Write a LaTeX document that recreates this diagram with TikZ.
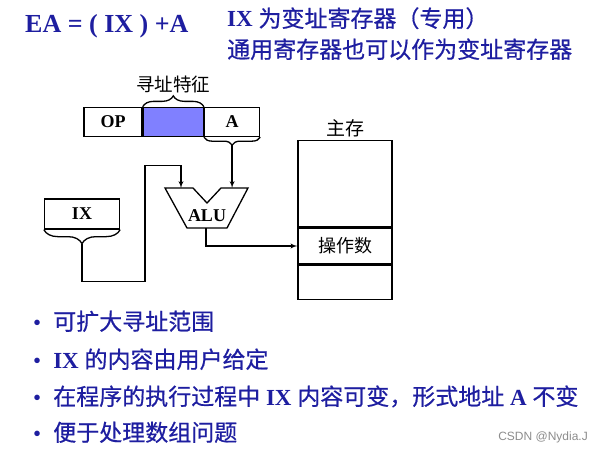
\documentclass[tikz,border=0pt]{standalone}
\usepackage{fontspec}
\setmainfont{Liberation Serif}
\newfontfamily\cjk{Noto Sans CJK SC}
\newfontfamily\cjkb{Noto Sans CJK SC}[FakeBold=0.6]
\newfontfamily\markfont{Liberation Sans}
\usetikzlibrary{
  arrows,
  positioning,
  decorations.pathreplacing,
}
\definecolor{slideblue}{RGB}{30,30,160}
\definecolor{modefill}{RGB}{128,128,255}
\tikzstyle{field} = [
rectangle,
draw,
line width=1.3pt,
minimum height=29pt,
inner sep=0pt,
font=\fontsize{18}{20}\selectfont\bfseries
]
\tikzstyle{cell} = [
rectangle,
draw,
line width=1.5pt,
minimum width=94pt,
inner sep=0pt,
font=\fontsize{18}{20}\selectfont\cjk
]
\tikzstyle{cnlabel} = [
inner sep=0pt,
font=\fontsize{18.5}{20}\selectfont\cjk
]
\tikzstyle{heading} = [
anchor=base west,
inner sep=0pt,
text=slideblue,
font=\fontsize{23}{26}\selectfont
]
\tikzstyle{bulletitem} = [
anchor=base west,
inner sep=0pt,
text=slideblue,
font=\fontsize{23}{26}\selectfont
]
\tikzstyle{arrow} = [draw, line width=1.3pt, -latex']
\tikzset{ubrace/.style={decorate, decoration={brace, amplitude=#1}, line width=1.3pt}}

\begin{document}
\begin{tikzpicture}[x=1pt, y=-1pt, node distance=0pt]
  \useasboundingbox (0,0) rectangle (602,452);
  % Headline
  \node [heading, font=\fontsize{26}{28}\selectfont\bfseries] (ea) at (25,33) {EA = ( IX ) +A};
  \node [heading] (note1) at (227,27) {\textbf{IX} {\cjkb 为变址寄存器（专用）}};
  \node [heading] (note2) at (227,58) {\cjkb 通用寄存器也可以作为变址寄存器};

  % Instruction word
  \node [field, minimum width=58pt] (op) at (113,122) {OP};
  \node [field, minimum width=60pt, fill=modefill, right=of op] (mode) {};
  \node [field, minimum width=55pt, right=of mode] (addr) {A};
  \draw [ubrace=11pt] (mode.north west) -- (mode.north east);
  \draw [ubrace=8pt] (addr.south east) -- (addr.south west);
  \node [cnlabel, above=14pt of mode] (feature) {寻址特征};
  \coordinate (atip) at ([yshift=-8pt]addr.south);

  % Index register
  \node [field, minimum width=75pt, minimum height=30pt] (ix) at (82,214) {IX};
  \draw [ubrace=14pt] (ix.south east) -- (ix.south west);
  \coordinate (ixtip) at ([yshift=-14pt]ix.south);

  % ALU
  \node [font=\fontsize{18}{20}\selectfont\bfseries, inner sep=0pt] (alu) at (207,216) {ALU};
  \draw [line width=1.3pt, line join=miter] (165,188) -- (193,188) -- (207,203) -- (221,188)
    -- (248,188) -- (227,228) -- (187,228) -- cycle;
  \coordinate (inL) at (181,188);
  \coordinate (inR) at (atip |- inL);
  \coordinate (aluout) at (206,228);

  % Main memory
  \node [cell, minimum height=36pt] (opnd) at (345,246) {操作数};
  \node [cell, minimum height=86pt, above=of opnd] (memtop) {};
  \node [cell, minimum height=34pt, below=of opnd] (membot) {};
  \node [cnlabel, font=\fontsize{19}{20}\selectfont\cjk, above=3pt of memtop] (mem) {主存};

  % Draw edges
  \path [arrow] (atip) -- (inR);
  \path [arrow] (ixtip) -- ++(0,38) -| ++(63,-116) -| (inL);
  \path [arrow] (aluout) |- (opnd.west);

  % Notes
  \node [bulletitem] (b1) at (33,330) {\textbullet\hspace{12pt}{\cjkb 可扩大寻址范围}};
  \node [bulletitem] (b2) at (33,368) {\textbullet\hspace{12pt}\textbf{IX} {\cjkb 的内容由用户给定}};
  \node [bulletitem] (b3) at (33,405) {\textbullet\hspace{12pt}{\cjkb 在程序的执行过程中} \textbf{IX} {\cjkb 内容可变，形式地址} \textbf{A} {\cjkb 不变}};
  \node [bulletitem] (b4) at (33,441) {\textbullet\hspace{12pt}{\cjkb 便于处理数组问题}};
  \node [anchor=base east, inner sep=0pt, text=black!45, font=\fontsize{12}{14}\selectfont\markfont] (mark) at (588,440) {CSDN @Nydia.J};
\end{tikzpicture}
\end{document}
